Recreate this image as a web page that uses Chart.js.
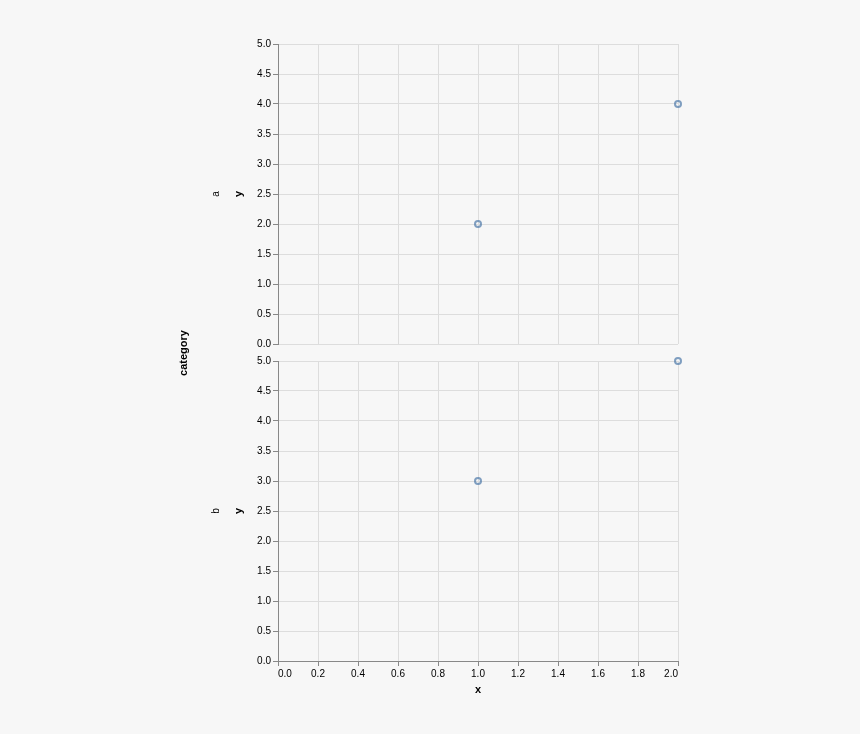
<!DOCTYPE html>
<html>
<head>
<meta charset="utf-8">
<script src="https://cdn.jsdelivr.net/npm/chart.js"></script>
<style>
  body { margin: 0; background: #f7f7f7; }
  #wrap { position: relative; width: 860px; height: 734px; font-family: "Liberation Sans", Arial, sans-serif; }
  canvas { position: absolute; left: 0; }
  .lbl { position: absolute; transform: translate(-50%, -50%) rotate(-90deg); white-space: nowrap; color: #000; }
</style>
</head>
<body>
<div id="wrap">
  <canvas id="chartA" width="860" height="352" style="top:0"></canvas>
  <canvas id="chartB" width="860" height="382" style="top:352px"></canvas>
  <div class="lbl" style="left:183px; top:353px; font-size:11px; font-weight:bold;">category</div>
  <div class="lbl" id="facetA" style="left:215px; top:194px; font-size:10px;"></div>
  <div class="lbl" id="facetB" style="left:215px; top:511px; font-size:10px;"></div>
</div>
<script>
// facet rows and the points in each
const categories = ['a', 'b'];
const xValues = [1, 2];
const yValuesA = [2, 4];
const yValuesB = [3, 5];

const xMin = 0, xMax = 2, xStep = 0.2;
const yMin = 0, yMax = 5, yStep = 0.5;

document.getElementById('facetA').textContent = categories[0];
document.getElementById('facetB').textContent = categories[1];

const labelFont = { family: 'Liberation Sans, Arial, sans-serif', size: 10 };
const titleFont = { family: 'Liberation Sans, Arial, sans-serif', size: 11, weight: 'bold' };

function points(ys) {
    return xValues.map((x, i) => ({ x: x, y: ys[i] }));
}

function makeChart(id, ys, showX) {
    const ctx = document.getElementById(id).getContext('2d');
    return new Chart(ctx, {
        type: 'scatter',
        data: {
            datasets: [{
                data: points(ys),
                pointStyle: 'circle',
                pointRadius: 3,
                pointBorderWidth: 2,
                pointBackgroundColor: 'rgba(0,0,0,0)',
                pointBorderColor: 'rgba(76, 120, 168, 0.7)',
                clip: false
            }]
        },
        options: {
            responsive: false,
            animation: false,
            devicePixelRatio: 1,
            layout: {
                padding: showX
                    ? { left: 232, right: 182, top: 9, bottom: 37 }
                    : { left: 232, right: 182, top: 44, bottom: 0 }
            },
            plugins: { legend: { display: false }, tooltip: { enabled: false } },
            scales: {
                x: {
                    type: 'linear',
                    min: xMin, max: xMax,
                    afterFit: (s) => { s.height = showX ? 36 : 8; },
                    grid: { color: '#dddddd', drawTicks: showX, tickLength: 5, tickColor: '#888888' },
                    border: { display: showX, color: '#888888' },
                    ticks: {
                        display: showX,
                        stepSize: xStep,
                        align: 'inner',
                        maxRotation: 0,
                        padding: 2,
                        color: '#000',
                        font: labelFont,
                        callback: (v) => v.toFixed(1)
                    },
                    title: { display: showX, text: 'x', color: '#000', font: titleFont, padding: 0 }
                },
                y: {
                    type: 'linear',
                    min: yMin, max: yMax,
                    afterFit: (s) => { s.width = 46; },
                    grid: { color: '#dddddd', tickLength: 5, tickColor: '#888888' },
                    border: { color: '#888888' },
                    ticks: {
                        stepSize: yStep,
                        padding: 2,
                        color: '#000',
                        font: labelFont,
                        callback: (v) => v.toFixed(1)
                    },
                    title: { display: true, text: 'y', color: '#000', font: titleFont, padding: 0 }
                }
            }
        }
    });
}

makeChart('chartA', yValuesA, false);
makeChart('chartB', yValuesB, true);
</script>
</body>
</html>
